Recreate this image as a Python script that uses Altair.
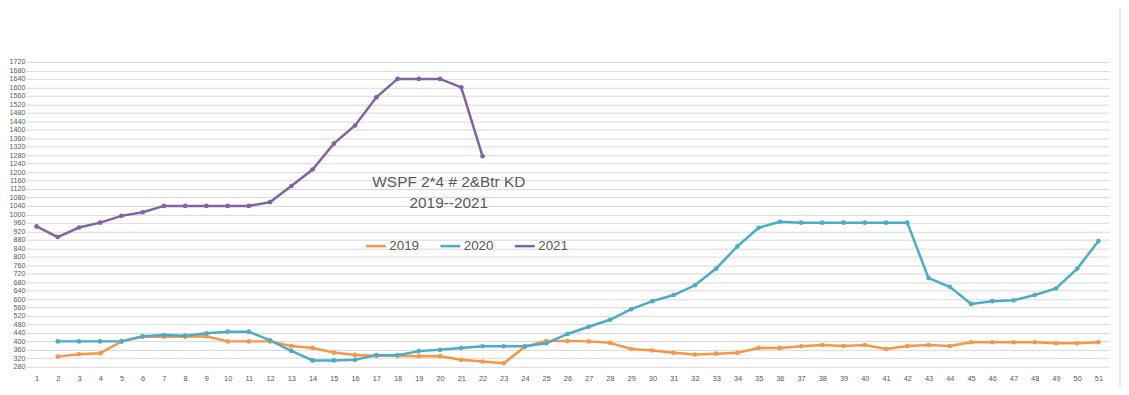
import altair as alt
import pandas as pd

weeks_2019 = list(range(2, 52))
vals_2019 = [328, 339, 344, 400, 422, 422, 422, 424, 400, 400, 400, 378, 369, 347, 336,
             332, 332, 330, 330, 313, 305, 297, 375, 402, 402, 400, 393, 364, 357, 346,
             338, 342, 346, 369, 369, 377, 383, 378, 383, 364, 378, 383, 378, 396, 396,
             396, 396, 391, 391, 396]

weeks_2020 = list(range(2, 52))
vals_2020 = [400, 400, 400, 400, 424, 430, 427, 438, 446, 446, 405, 355, 310, 310, 313,
             335, 335, 354, 360, 369, 377, 377, 377, 391, 435, 469, 502, 552, 590, 619,
             665, 744, 849, 937, 965, 961, 961, 961, 961, 961, 961, 699, 658, 577, 590,
             594, 619, 650, 744, 874]

weeks_2021 = list(range(1, 23))
vals_2021 = [943, 893, 938, 961, 993, 1010, 1040, 1040, 1040, 1040, 1040, 1058, 1134,
             1212, 1334, 1420, 1553, 1640, 1640, 1640, 1600, 1275]

series_names = ["2019", "2020", "2021"]
series_colors = ["#F79646", "#4BACC6", "#8064A2"]
y_ticks = list(range(280, 1721, 40))
x_ticks = list(range(1, 52))
title_lines = ["WSPF 2*4 # 2&Btr KD", "2019--2021"]

rows = []
for name, wk, vals in [("2019", weeks_2019, vals_2019),
                       ("2020", weeks_2020, vals_2020),
                       ("2021", weeks_2021, vals_2021)]:
    for w, v in zip(wk, vals):
        rows.append({"Week": w, "Price": v, "Year": name})
df = pd.DataFrame(rows)

FONT = "Liberation Sans"
GREY = "#595959"

lines = alt.Chart(df).mark_line(
    strokeWidth=2.5,
    point=alt.OverlayMarkDef(size=22, filled=True),
).encode(
    x=alt.X("Week:Q",
            scale=alt.Scale(domain=[0.5, 51.5], nice=False, zero=False),
            axis=alt.Axis(values=x_ticks, title=None, grid=False, domain=False,
                          ticks=False, labelFontSize=7.5, labelColor=GREY,
                          labelFont=FONT, labelPadding=8, labelFlush=False, format="d")),
    y=alt.Y("Price:Q",
            scale=alt.Scale(domain=[280, 1720], nice=False, zero=False),
            axis=alt.Axis(values=y_ticks, title=None, grid=True, gridColor="#d9d9d9",
                          gridWidth=1, domain=False, ticks=False, labelFontSize=7.2,
                          labelColor=GREY, labelFont=FONT, labelPadding=1, format="d")),
    color=alt.Color("Year:N",
                    scale=alt.Scale(domain=series_names, range=series_colors),
                    legend=alt.Legend(title=None, orient="none", direction="horizontal",
                                      legendX=341, legendY=174, symbolType="stroke",
                                      symbolStrokeWidth=2.5, symbolSize=400,
                                      labelFontSize=13.5, labelColor=GREY, labelFont=FONT,
                                      labelOffset=2, columnPadding=15)),
)

t1 = alt.Chart(pd.DataFrame({"t": [title_lines[0]]})).mark_text(
    fontSize=15.5, font=FONT, color=GREY, align="center", baseline="middle"
).encode(text="t:N", x=alt.value(426), y=alt.value(121))

t2 = alt.Chart(pd.DataFrame({"t": [title_lines[1]]})).mark_text(
    fontSize=15.5, font=FONT, color=GREY, align="center", baseline="middle"
).encode(text="t:N", x=alt.value(426), y=alt.value(142))

border = alt.Chart(pd.DataFrame({"a": [0]})).mark_rule(color="#d9d9d9", strokeWidth=1).encode(
    x=alt.value(1102), y=alt.value(-61), y2=alt.value(334)
)

chart = alt.layer(lines, t1, t2, border).properties(
    width=1091, height=307,
    autosize=alt.AutoSizeParams(type="none"),
    padding={"left": 18, "top": 53, "right": 12, "bottom": 19},
    background="white",
).configure_view(stroke=None)

chart.save("out.html", embed_options={"renderer": "svg", "actions": False})
